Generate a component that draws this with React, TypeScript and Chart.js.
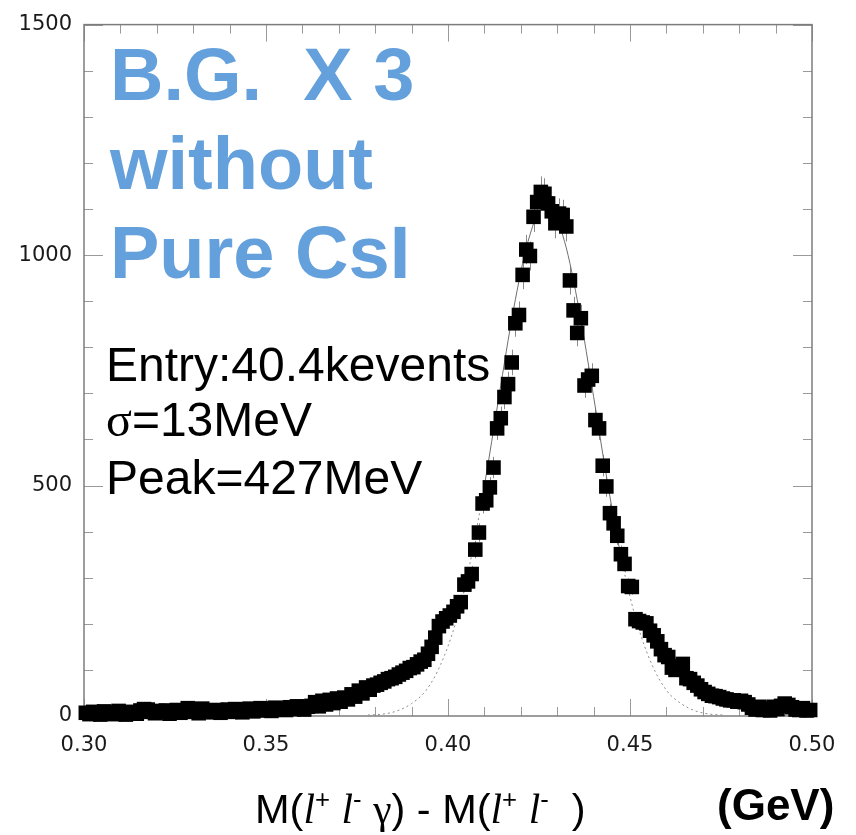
import React, { useEffect, useRef } from "react";
import { Chart, registerables } from "chart.js";

Chart.register(...registerables);

// Histogram: 200 bins of 1 MeV from 0.300 to 0.500 GeV
const binLow = 0.3;
const binWidth = 0.001;
const counts: number[] = [
  7, 4, 9, 6, 3, 10, 5, 8, 4, 11, 6, 3, 9, 7, 5, 12,
  15, 14, 9,
  6, 11, 8, 12, 5, 10, 13, 7, 11,
  17, 9, 14, 6, 16, 12, 8,
  10, 13, 7, 12, 14, 9, 15, 11, 8, 14, 16, 10, 13, 17, 12, 15, 11, 18, 14, 16, 13, 19, 15, 21, 17, 14, 20, 22,
  30, 21, 33, 25, 35, 28, 38, 31,
  40, 36, 47, 42, 55, 49, 62, 57, 66,
  68, 72, 75, 80, 82, 85, 90, 94, 98, 104, 106, 112, 118, 122, 135, 150,
  170, 195, 205, 212, 218, 226, 238, 247, 285, 292, 308, 361, 398, 461, 468, 496,
  539, 624, 646, 692, 720, 767, 852, 870, 957, 1012, 998, 1083, 1115, 1137, 1133, 1112,
  1095, 1069, 1090, 1087, 1062, 945, 880, 831, 863, 717, 730, 738, 642, 624, 543, 498,
  440, 418, 391, 351, 330, 282, 280, 210, 206, 203, 201, 185, 175, 162, 145, 132,
  128, 105, 100, 108, 113, 82, 80, 72, 66, 58, 52, 48, 44, 43, 41, 38, 36, 34, 34, 31,
  33, 30, 25, 18, 14, 20, 13, 16, 12, 20, 15, 22, 27, 24, 19, 14, 13, 17, 12, 13,
];

// Fitted curve
const fitX: number[] = [
  0.378, 0.382, 0.386, 0.39, 0.394, 0.398, 0.402, 0.406, 0.41, 0.414, 0.418, 0.422, 0.426,
  0.428, 0.432, 0.436, 0.44, 0.444, 0.448, 0.452, 0.456, 0.46, 0.464, 0.468, 0.472, 0.476,
];
const fitY: number[] = [
  2, 4, 11, 27, 56, 112, 200, 330, 500, 693, 882, 1030, 1100,
  1100, 1030, 882, 693, 498, 328, 200, 112, 56, 27, 11, 4, 2,
];
const fitRangeLow = 0.41;
const fitRangeHigh = 0.448;

const xTickValues: number[] = [0.3, 0.35, 0.4, 0.45, 0.5];
const xTickLabels: string[] = ["0.30", "0.35", "0.40", "0.45", "0.50"];
const xMinorTicks: number[] = [
  0.3, 0.31, 0.32, 0.33, 0.34, 0.35, 0.36, 0.37, 0.38, 0.39, 0.4,
  0.41, 0.42, 0.43, 0.44, 0.45, 0.46, 0.47, 0.48, 0.49, 0.5,
];
const yTickValues: number[] = [0, 500, 1000, 1500];
const yTickLabels: string[] = ["0", "500", "1000", "1500"];
const yMinorTicks: number[] = [
  0, 100, 200, 300, 400, 500, 600, 700, 800, 900, 1000, 1100, 1200, 1300, 1400, 1500,
];

const W = 856;
const H = 835;

const framePlugin = {
  id: "frameAndErrors",
  beforeDatasetsDraw(chart: any) {
    const { ctx, chartArea, scales } = chart;
    const { left, right, top, bottom } = chartArea;
    const xs = scales.x;
    const ys = scales.y;
    ctx.save();
    // inward ticks
    ctx.strokeStyle = "#9a9a9a";
    ctx.lineWidth = 1;
    ctx.beginPath();
    xMinorTicks.forEach((v) => {
      const px = Math.round(xs.getPixelForValue(v)) + 0.5;
      const major = xTickValues.some((t) => Math.abs(t - v) < 1e-9);
      const len = major ? 17 : 9;
      ctx.moveTo(px, bottom);
      ctx.lineTo(px, bottom - len);
      ctx.moveTo(px, top);
      ctx.lineTo(px, top + len);
    });
    yMinorTicks.forEach((v) => {
      const py = Math.round(ys.getPixelForValue(v)) + 0.5;
      const major = yTickValues.includes(v);
      const len = major ? 19 : 9;
      ctx.moveTo(left, py);
      ctx.lineTo(left + len, py);
      ctx.moveTo(right, py);
      ctx.lineTo(right - len, py);
    });
    ctx.stroke();
    // frame
    ctx.strokeStyle = "#7d7d7d";
    ctx.lineWidth = 1.5;
    ctx.strokeRect(left, top, right - left, bottom - top);
    // error bars
    ctx.strokeStyle = "#8a8a8a";
    ctx.lineWidth = 1;
    ctx.beginPath();
    counts.forEach((c, i) => {
      const xv = binLow + (i + 0.5) * binWidth;
      const px = Math.round(xs.getPixelForValue(xv)) + 0.5;
      const e = Math.sqrt(c);
      ctx.moveTo(px, ys.getPixelForValue(c + e));
      ctx.lineTo(px, ys.getPixelForValue(Math.max(0, c - e)));
    });
    ctx.stroke();
    ctx.restore();
  },
};

export default function App() {
  const canvasRef = useRef<HTMLCanvasElement | null>(null);

  useEffect(() => {
    document.body.style.margin = "0";
    const canvas = canvasRef.current;
    if (!canvas) return;
    const points = counts.map((c, i) => ({ x: binLow + (i + 0.5) * binWidth, y: c }));
    const fitPoints = fitX.map((x, i) => ({ x, y: fitY[i] }));
    const tickFont = { family: "'DejaVu Sans', sans-serif", size: 21 };
    const chart = new Chart(canvas, {
      type: "scatter",
      data: {
        datasets: [
          {
            type: "line",
            label: "fit",
            data: fitPoints,
            borderColor: "#6e6e6e",
            borderWidth: 1,
            pointRadius: 0,
            cubicInterpolationMode: "monotone",
            fill: false,
            order: 2,
            segment: {
              borderDash: (ctx: any) =>
                ctx.p1.parsed.x <= fitRangeLow + 1e-9 || ctx.p0.parsed.x >= fitRangeHigh - 1e-9
                  ? [2, 3]
                  : undefined,
              borderColor: (ctx: any) =>
                ctx.p1.parsed.x <= fitRangeLow + 1e-9 || ctx.p0.parsed.x >= fitRangeHigh - 1e-9
                  ? "#8c8c8c"
                  : undefined,
            },
          } as any,
          {
            label: "data",
            data: points,
            pointStyle: "rect",
            pointRadius: 10.3,
            pointBorderWidth: 0,
            backgroundColor: "#000",
            borderColor: "#000",
            clip: false,
            order: 1,
          } as any,
        ],
      },
      options: {
        responsive: false,
        animation: false,
        devicePixelRatio: 1,
        layout: { padding: { top: 13, right: 44, left: 0, bottom: 0 } },
        plugins: { legend: { display: false }, tooltip: { enabled: false } },
        scales: {
          x: {
            type: "linear",
            min: 0.3,
            max: 0.5,
            grid: { display: false, drawTicks: false },
            border: { display: false },
            afterBuildTicks: (s: any) => {
              s.ticks = xTickValues.map((v) => ({ value: v }));
            },
            afterFit: (s: any) => {
              s.height = H - 716;
            },
            ticks: {
              autoSkip: false,
              maxRotation: 0,
              padding: 17,
              color: "#1a1a1a",
              font: tickFont,
              callback: (_v: any, i: number) => xTickLabels[i],
            },
          },
          y: {
            type: "linear",
            min: 0,
            max: 1500,
            grid: { display: false, drawTicks: false },
            border: { display: false },
            afterBuildTicks: (s: any) => {
              s.ticks = yTickValues.map((v) => ({ value: v }));
            },
            afterFit: (s: any) => {
              s.width = 84;
            },
            ticks: {
              autoSkip: false,
              padding: 12,
              color: "#1a1a1a",
              font: tickFont,
              callback: (_v: any, i: number) => yTickLabels[i],
            },
          },
        },
      } as any,
      plugins: [framePlugin],
    });
    return () => chart.destroy();
  }, []);

  const serif = "'Liberation Serif', 'Times New Roman', serif";
  const sans = "'Liberation Sans', Arial, sans-serif";
  const sup: React.CSSProperties = { fontSize: "0.62em", position: "relative", top: "-0.6em" };
  const ital: React.CSSProperties = { fontFamily: serif, fontStyle: "italic" };
  const statStyle: React.CSSProperties = {
    position: "absolute",
    left: 106,
    fontFamily: sans,
    fontSize: 48,
    lineHeight: 1,
    color: "#000",
    whiteSpace: "pre",
  };

  return (
    <div style={{ position: "relative", width: W, height: H, overflow: "hidden", background: "#fff" }}>
      <style>{`body{margin:0}`}</style>
      <canvas ref={canvasRef} width={W} height={H} style={{ display: "block" }} />
      <div
        style={{
          position: "absolute",
          left: 110,
          top: 30,
          fontFamily: sans,
          fontWeight: "bold",
          fontSize: 74,
          lineHeight: "89px",
          color: "#63a0dc",
          whiteSpace: "pre",
        }}
      >
        <div>{"B.G.  X 3"}</div>
        <div>without</div>
        <div>Pure CsI</div>
      </div>
      <div style={{ ...statStyle, top: 341 }}>Entry:40.4kevents</div>
      <div style={{ ...statStyle, top: 396 }}>
        <span style={{ fontFamily: serif }}>σ</span>=13MeV
      </div>
      <div style={{ ...statStyle, top: 454 }}>Peak=427MeV</div>
      <div style={{ position: "absolute", left: 255, top: 788, fontFamily: sans, fontSize: 41.5, lineHeight: 1, color: "#000", whiteSpace: "pre" }}>
        M(<span style={ital}>l</span><span style={sup}>+</span> <span style={ital}>l</span><span style={sup}>-</span> <span style={{ fontFamily: serif }}>γ</span>) - M(<span style={ital}>l</span><span style={sup}>+</span> <span style={ital}>l</span><span style={sup}>-</span>  )
      </div>
      <div style={{ position: "absolute", left: 717, top: 783, fontFamily: sans, fontWeight: "bold", fontSize: 44, lineHeight: 1, color: "#000", whiteSpace: "pre" }}>
        (GeV)
      </div>
    </div>
  );
}
